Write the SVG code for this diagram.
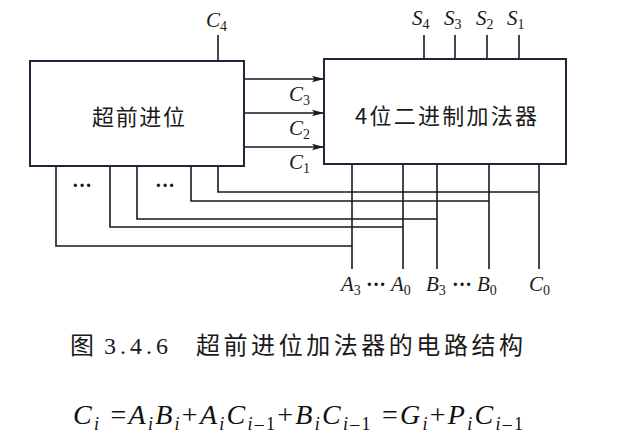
<svg xmlns="http://www.w3.org/2000/svg" width="618" height="448" viewBox="0 0 618 448">
<defs>
<style>
.box{fill:#fff;stroke:#1f2638;stroke-width:2}
.w{fill:none;stroke:#1a1a1a;stroke-width:1.6}
.lbl{font-family:"Liberation Serif",serif;font-style:italic;font-size:21px;fill:#1a1a1a}
.sub{font-style:normal;font-size:14px}
.cn{font-family:"Noto Sans CJK SC",sans-serif;font-size:22px;fill:#1a1a1a}
.dots{font-family:"Liberation Serif",serif;font-weight:bold;font-size:20px;fill:#1a1a1a}
.eq{font-family:"Liberation Serif",serif;font-style:italic;font-size:28px;fill:#111}
.es{font-size:18px}
.up{font-style:normal}
</style>
<marker id="ah" markerUnits="userSpaceOnUse" markerWidth="13" markerHeight="8" refX="12" refY="4" orient="auto">
<path d="M0,0.8 L12,4 L0,7.2 L2.5,4 z" fill="#1a1a1a"/>
</marker>
</defs>
<rect width="618" height="448" fill="#fff"/>
<g id="connectors">
<path class="w" d="M218,35 V61"/>
<path class="w" d="M424,35 V59 M455,35 V59 M487,35 V59 M519,35 V59"/>
<path class="w" d="M244,79 H324" marker-end="url(#ah)"/>
<path class="w" d="M244,113 H324" marker-end="url(#ah)"/>
<path class="w" d="M244,147 H324" marker-end="url(#ah)"/>
<path class="w" d="M352,164 V269 M403,164 V269 M437,164 V269 M489,164 V269 M539,164 V269"/>
<path class="w" d="M218,166 V192 H539"/>
<path class="w" d="M191,166 V201 H489"/>
<path class="w" d="M137,166 V219 H437"/>
<path class="w" d="M110,166 V227 H403"/>
<path class="w" d="M56,166 V246 H352"/>
</g>
<g id="carry-lookahead">
<rect class="box" x="30" y="61" width="214" height="105"/>
<text class="cn" x="92" y="125" textLength="93" lengthAdjust="spacing">超前进位</text>
</g>
<g id="adder">
<rect class="box" x="324" y="59" width="242" height="105"/>
<text class="cn" x="355" y="124" textLength="182" lengthAdjust="spacing">4位二进制加法器</text>
</g>
<g id="labels">
<text class="lbl" x="206" y="27">C<tspan class="sub" dy="4">4</tspan></text>
<text class="lbl" x="412" y="25">S<tspan class="sub" dy="4">4</tspan></text>
<text class="lbl" x="444" y="25">S<tspan class="sub" dy="4">3</tspan></text>
<text class="lbl" x="476" y="25">S<tspan class="sub" dy="4">2</tspan></text>
<text class="lbl" x="507" y="25">S<tspan class="sub" dy="4">1</tspan></text>
<text class="lbl" x="289" y="101">C<tspan class="sub" dy="4">3</tspan></text>
<text class="lbl" x="289" y="135">C<tspan class="sub" dy="4">2</tspan></text>
<text class="lbl" x="289" y="169">C<tspan class="sub" dy="4">1</tspan></text>
<text class="dots" x="72" y="192">···</text>
<text class="dots" x="155" y="192">···</text>
<text class="lbl" x="341" y="291">A<tspan class="sub" dy="4">3</tspan></text>
<text class="dots" x="366" y="291">···</text>
<text class="lbl" x="391" y="291">A<tspan class="sub" dy="4">0</tspan></text>
<text class="lbl" x="426" y="291">B<tspan class="sub" dy="4">3</tspan></text>
<text class="dots" x="452" y="291">···</text>
<text class="lbl" x="477" y="291">B<tspan class="sub" dy="4">0</tspan></text>
<text class="lbl" x="529" y="291">C<tspan class="sub" dy="4">0</tspan></text>
</g>
<g id="caption">
<text class="cn" x="70" y="354" style="font-size:24px">图</text>
<text x="104" y="354" style="font-family:'Liberation Serif',serif;font-size:24px;letter-spacing:4px;fill:#1a1a1a">3.4.6</text>
<text class="cn" x="196" y="354" style="font-size:24px" textLength="327" lengthAdjust="spacing">超前进位加法器的电路结构</text>
</g>
<g id="formula">
<text class="eq" x="73" y="424" textLength="450" lengthAdjust="spacing">C<tspan class="es" dy="6">i</tspan><tspan dy="-6" class="up"> =</tspan>A<tspan class="es" dy="6">i</tspan><tspan dy="-6">B</tspan><tspan class="es" dy="6">i</tspan><tspan dy="-6" class="up">+</tspan>A<tspan class="es" dy="6">i</tspan><tspan dy="-6">C</tspan><tspan class="es" dy="6">i<tspan class="up">–1</tspan></tspan><tspan dy="-6" class="up">+</tspan>B<tspan class="es" dy="6">i</tspan><tspan dy="-6">C</tspan><tspan class="es" dy="6">i<tspan class="up">–1</tspan></tspan><tspan dy="-6" class="up"> =</tspan>G<tspan class="es" dy="6">i</tspan><tspan dy="-6" class="up">+</tspan>P<tspan class="es" dy="6">i</tspan><tspan dy="-6">C</tspan><tspan class="es" dy="6">i<tspan class="up">–1</tspan></tspan></text>
</g>
</svg>
